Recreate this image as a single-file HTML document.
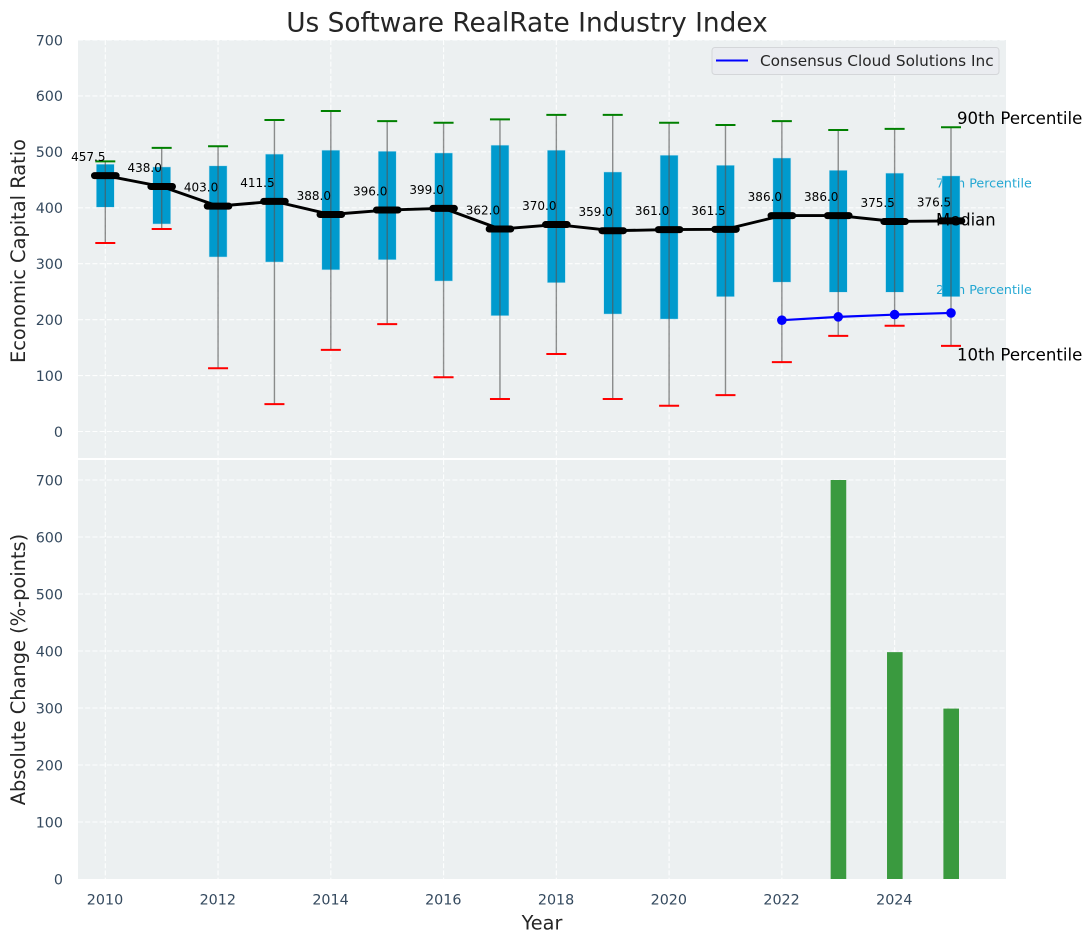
<!DOCTYPE html>
<html>
<head>
<meta charset="utf-8">
<title>Us Software RealRate Industry Index</title>
<style>
html,body{margin:0;padding:0;background:#fff;width:1092px;height:942px;overflow:hidden}
svg{display:block;font-family:"DejaVu Sans","Liberation Sans",sans-serif}
</style>
</head>
<body>
<svg id="chart" xmlns="http://www.w3.org/2000/svg" width="1092" height="942" viewBox="0 0 1092 942">
  <rect x="0" y="0" width="1092" height="942" fill="#ffffff"/>
  <rect x="78" y="40" width="928" height="418" fill="#ecf0f1"/>
  <rect x="78" y="460" width="928" height="419" fill="#ecf0f1"/>
  <g id="grid"></g>
  <g id="top"></g>
  <g id="bottom"></g>
  <g id="ticks"></g>
  <text x="527" y="31.5" text-anchor="middle" font-size="26.4" fill="#262626">Us Software RealRate Industry Index</text>
  <text transform="translate(25 251) rotate(-90)" text-anchor="middle" font-size="19.4" fill="#262626">Economic Capital Ratio</text>
  <text transform="translate(25 669.5) rotate(-90)" text-anchor="middle" font-size="19.4" fill="#262626">Absolute Change (%-points)</text>
  <text x="542" y="929.5" text-anchor="middle" font-size="19.3" fill="#262626">Year</text>
  <g>
    <rect x="712" y="47.5" width="287" height="27" rx="3" fill="#eaecf0" stroke="#d4d6d9" stroke-width="1"/>
    <line x1="716" y1="60.5" x2="748" y2="60.5" stroke="#0000ff" stroke-width="2"/>
    <text x="760" y="66" font-size="15.3" fill="#262626">Consensus Cloud Solutions Inc</text>
  </g>
</svg>
<script>
// ---- chart data ----
const years = [2010,2011,2012,2013,2014,2015,2016,2017,2018,2019,2020,2021,2022,2023,2024,2025];
const p90Values = [483,507,510,557,573,555,552,558,566,566,552,548,555,539,541,544];
const p75Values = [478,473,475,496,503,501,498,512,503,464,494,476,489,467,462,457];
const medianValues = [457.5,438,403,411.5,388,396,399,362,370,359,361,361.5,386,386,375.5,376.5];
const p25Values = [401,371,312,303,289,307,269,207,266,210,201,241,267,249,249,241];
const p10Values = [337,362,113,49,146,192,97,58,138.5,58,46,65,124,171,189,153];
const companyYears = [2022,2023,2024,2025];
const companyValues = [199,205,209,212];
const changeYears = [2023,2024,2025];
const changeValues = [700,398,299];
const xTickLabels = [2010,2012,2014,2016,2018,2020,2022,2024];
const topYTickLabels = [0,100,200,300,400,500,600,700];
const bottomYTickLabels = [0,100,200,300,400,500,600,700];

// ---- axis functions ----
const xAxis = v => 105.3 + (v - 2010) * 56.38;
const yTop = v => 431.5 - v * 0.5593;
const yBottom = v => 879 - v * 0.57;

const NS = 'http://www.w3.org/2000/svg';
function make(parent, tag, attrs, text) {
  const el = document.createElementNS(NS, tag);
  for (const k in attrs) el.setAttribute(k, attrs[k]);
  if (text !== undefined) el.textContent = text;
  parent.appendChild(el);
  return el;
}
const grid = document.getElementById('grid');
const top_ = document.getElementById('top');
const bottom = document.getElementById('bottom');
const ticks = document.getElementById('ticks');
const gridStyle = {stroke:'#ffffff','stroke-width':1.1,'stroke-dasharray':'5 2.2','stroke-opacity':0.9};
const tickFont = 14.3;
const tickColor = '#34495e';

// grid + x ticks
xTickLabels.forEach(y => {
  const x = xAxis(y);
  let el = make(grid, 'line', Object.assign({x1:x,x2:x,y1:40,y2:458}, gridStyle));
  
  
  el = make(grid, 'line', Object.assign({x1:x,x2:x,y1:460,y2:879}, gridStyle));
  
  
  el = make(ticks, 'text', {x:x-0.3,y:904.5,'text-anchor':'middle','font-size':tickFont,fill:tickColor}, y);
  
  
});
topYTickLabels.forEach(v => {
  const y = yTop(v);
  let el = make(grid, 'line', Object.assign({x1:78,x2:1006,y1:y,y2:y}, gridStyle));
  
  
  el = make(ticks, 'text', {x:63,y:y+5.3,'text-anchor':'end','font-size':tickFont,fill:tickColor}, v);
  
  
});
bottomYTickLabels.forEach(v => {
  const y = yBottom(v);
  if (v > 0) {
    const gl = make(grid, 'line', Object.assign({x1:78,x2:1006,y1:y,y2:y}, gridStyle));
    
    
  }
  const el = make(ticks, 'text', {x:63,y:y+5.3,'text-anchor':'end','font-size':tickFont,fill:tickColor}, v);
  
  
});

// small coloured percentile annotations sit behind the bars
const lastYear = years[years.length - 1];
const lastIdx = years.length - 1;
let note = make(top_, 'text', {x:xAxis(lastYear)-15,y:yTop(p75Values[lastIdx])+11.5,'font-size':12.7,fill:'#009acd','fill-opacity':0.85}, '75th Percentile');


note = make(top_, 'text', {x:xAxis(lastYear)-15,y:yTop(p25Values[lastIdx])-2.5,'font-size':12.7,fill:'#009acd','fill-opacity':0.85}, '25th Percentile');



// interquartile bars
years.forEach((yr, i) => {
  const x = xAxis(yr);
  const r = make(top_, 'rect', {x:x-9,y:yTop(p75Values[i]),width:18,height:yTop(p25Values[i])-yTop(p75Values[i]),fill:'#009acd',stroke:'#bfe3f0','stroke-width':0.5});
  
  
});
// whiskers and caps
years.forEach((yr, i) => {
  const x = xAxis(yr);
  const w = make(top_, 'line', {x1:x,x2:x,y1:yTop(p90Values[i]),y2:yTop(p10Values[i]),stroke:'#555555','stroke-width':1.4,'stroke-opacity':0.65});
  
  
  const c1 = make(top_, 'line', {x1:x-10,x2:x+10,y1:yTop(p90Values[i]),y2:yTop(p90Values[i]),stroke:'#008000','stroke-width':2});
  
  
  const c2 = make(top_, 'line', {x1:x-10,x2:x+10,y1:yTop(p10Values[i]),y2:yTop(p10Values[i]),stroke:'#ff0000','stroke-width':2});
  
  
});
// company series
const companyLine = make(top_, 'polyline', {points:companyYears.map((y,i)=>xAxis(y)+','+yTop(companyValues[i])).join(' '),fill:'none',stroke:'#0000ff','stroke-width':2.2});


companyYears.forEach((y,i) => {
  const p = make(top_, 'circle', {cx:xAxis(y),cy:yTop(companyValues[i]),r:4.8,fill:'#0000ff'});
  
  
});
// median line
const medianLine = make(top_, 'polyline', {points:years.map((y,i)=>xAxis(y)+','+yTop(medianValues[i])).join(' '),fill:'none',stroke:'#000000','stroke-width':2.9});


years.forEach((y,i) => {
  const x = xAxis(y), v = yTop(medianValues[i]);
  const m = make(top_, 'line', {x1:x-10.8,x2:x+10.8,y1:v,y2:v,stroke:'#000000','stroke-width':7,'stroke-linecap':'round'});
  
  
  const t = make(top_, 'text', {x:x-17,y:v-14.5,'text-anchor':'middle','font-size':12,fill:'#000000'}, medianValues[i].toFixed(1));
  
  
});
// black percentile annotations
let a = make(top_, 'text', {x:xAxis(lastYear)+6,y:yTop(p90Values[lastIdx])-3,'font-size':16.6,fill:'#000000'}, '90th Percentile');


a = make(top_, 'text', {x:xAxis(lastYear)-15,y:yTop(medianValues[lastIdx])+4.5,'font-size':16.4,fill:'#000000'}, 'Median');


a = make(top_, 'text', {x:xAxis(lastYear)+6,y:yTop(p10Values[lastIdx])+14.5,'font-size':16.6,fill:'#000000'}, '10th Percentile');


// change bars
changeYears.forEach((y,i) => {
  const b = make(bottom, 'rect', {x:xAxis(y)-7.6,y:yBottom(changeValues[i]),width:15.6,height:yBottom(0)-yBottom(changeValues[i]),fill:'#3a9a3f'});
  
  
});
</script>
</body>
</html>
